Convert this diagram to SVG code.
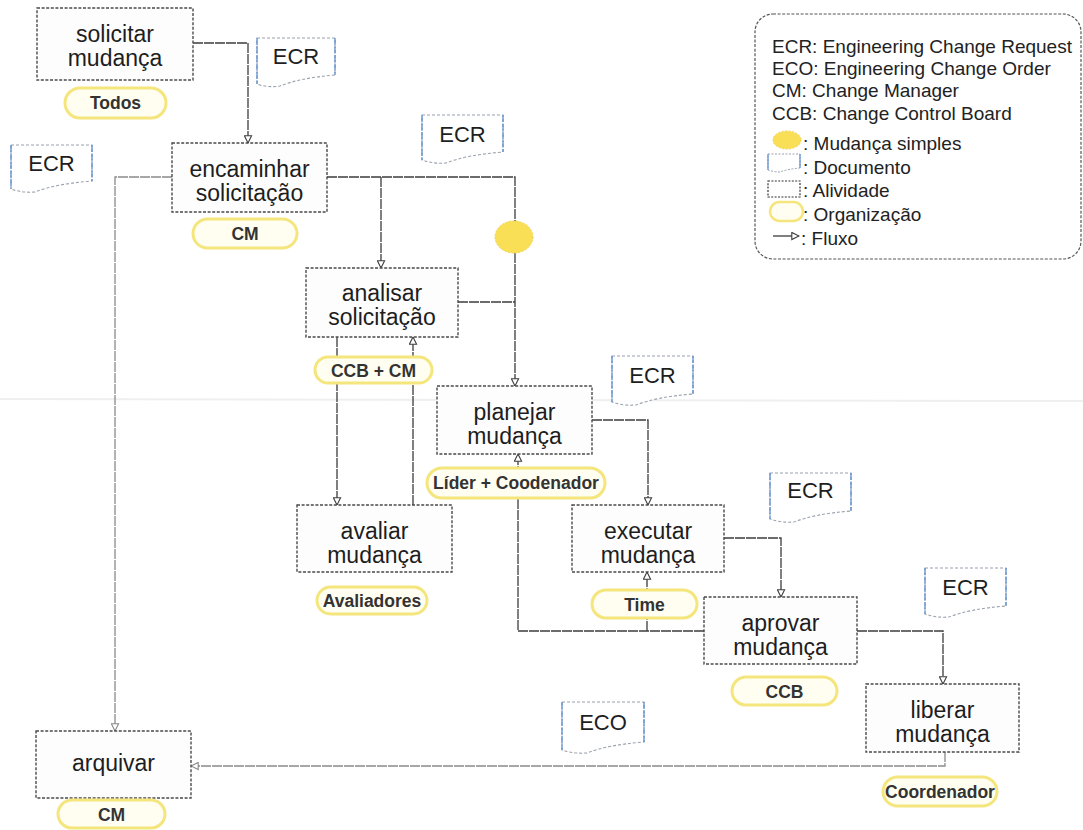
<svg xmlns="http://www.w3.org/2000/svg" width="1083" height="830" viewBox="0 0 1083 830">
  <style>
    .act { fill: #fdfdfd; stroke: #4a4a4a; stroke-width: 1.4; stroke-dasharray: 3 1.6; }
    .atxt { font-family: "Liberation Sans", Arial, sans-serif; font-size: 23px; fill: #1e1e1e; text-anchor: middle; }
    .org { fill: #fffef0; stroke: #f4e57c; stroke-width: 3; }
    .otxt { font-family: "Liberation Sans", Arial, sans-serif; font-size: 17.5px; font-weight: bold; fill: #333; text-anchor: middle; }
    .doc { fill: #ffffff; stroke: #9aa2ad; stroke-width: 1.1; stroke-dasharray: 3 2; }
    .side { stroke: #5b8fd2; stroke-width: 1.3; stroke-dasharray: 7 1.5; fill: none; }
    .dtxt { font-family: "Liberation Sans", Arial, sans-serif; font-size: 22px; fill: #1e1e1e; text-anchor: middle; }
    .flow { fill: none; stroke: #3c3c3c; stroke-width: 1.3; stroke-dasharray: 10 1; }
    .flow-light { fill: none; stroke: #8a8a8a; stroke-width: 1.3; stroke-dasharray: 10 1; }
    .ltxt { font-family: "Liberation Sans", Arial, sans-serif; font-size: 19px; fill: #222; }
    .simple { fill: #f8df55; stroke: #f1d24a; stroke-width: 1; stroke-dasharray: 2 1.5; }
  </style>
  <defs>
    <marker id="arrow" viewBox="0 0 10 10" refX="9" refY="5" markerWidth="9" markerHeight="9" markerUnits="userSpaceOnUse" orient="auto">
      <path d="M1,1 L9,5 L1,9 Z" fill="#ffffff" stroke="#3c3c3c" stroke-width="1.2"/>
    </marker>
    <marker id="arrow-light" viewBox="0 0 10 10" refX="9" refY="5" markerWidth="9" markerHeight="9" markerUnits="userSpaceOnUse" orient="auto">
      <path d="M1,1 L9,5 L1,9 Z" fill="#ffffff" stroke="#888888" stroke-width="1.2"/>
    </marker>
  </defs>

  <rect x="0" y="0" width="1083" height="830" fill="#ffffff"/>
  <!-- faint paper fold -->
  <line x1="0" y1="399" x2="1083" y2="401" stroke="#efefef" stroke-width="2"/>

  <!-- flow lines -->
  <g id="connectors">
    <path class="flow" d="M193,43 H248 V143" marker-end="url(#arrow)"/>
    <path class="flow" d="M327,177 H515 V386" marker-end="url(#arrow)"/>
    <path class="flow" d="M381,177 V268" marker-end="url(#arrow)"/>
    <path class="flow" d="M458,302 H515"/>
    <path class="flow-light" d="M172,177 H115 V731" marker-end="url(#arrow-light)"/>
    <path class="flow" d="M337,337 V505" marker-end="url(#arrow)"/>
    <path class="flow" d="M413,505 V337" marker-end="url(#arrow)"/>
    <path class="flow" d="M592,420 H648 V505" marker-end="url(#arrow)"/>
    <path class="flow" d="M724,538 H781 V597" marker-end="url(#arrow)"/>
    <path class="flow" d="M704,631 H518 V454" marker-end="url(#arrow)"/>
    <path class="flow" d="M647,631 V572" marker-end="url(#arrow)"/>
    <path class="flow" d="M857,631 H943 V684" marker-end="url(#arrow)"/>
    <path class="flow-light" d="M945,752 V766 H191" marker-end="url(#arrow-light)"/>
  </g>

  <!-- simple-change marker on the shortcut path -->
  <g id="mudanca-simples">
    <ellipse class="simple" cx="514" cy="237" rx="19" ry="16"/>
  </g>

  <!-- activities with their owners -->
  <g id="solicitar">
    <rect class="act" x="37" y="8" width="156" height="72"/>
    <text class="atxt" x="115" y="42">solicitar</text>
    <text class="atxt" x="115" y="66">mudança</text>
    <rect class="org" x="65" y="88" width="101" height="30" rx="15"/>
    <text class="otxt" x="115.5" y="109">Todos</text>
  </g>

  <g id="encaminhar">
    <rect class="act" x="172" y="143" width="155" height="69"/>
    <text class="atxt" x="249.5" y="177">encaminhar</text>
    <text class="atxt" x="249.5" y="201">solicitação</text>
    <rect class="org" x="193" y="219" width="104" height="29" rx="14.5"/>
    <text class="otxt" x="245" y="240">CM</text>
  </g>

  <g id="analisar">
    <rect class="act" x="306" y="268" width="152" height="69"/>
    <text class="atxt" x="382" y="301">analisar</text>
    <text class="atxt" x="382" y="325">solicitação</text>
    <rect class="org" x="315" y="357" width="117" height="26" rx="13"/>
    <text class="otxt" x="373.5" y="376.5">CCB + CM</text>
  </g>

  <g id="planejar">
    <rect class="act" x="437" y="386" width="155" height="68"/>
    <text class="atxt" x="514.5" y="420">planejar</text>
    <text class="atxt" x="514.5" y="444">mudança</text>
    <rect class="org" x="427" y="468" width="178" height="30" rx="15"/>
    <text class="otxt" x="516" y="489">Líder + Coodenador</text>
  </g>

  <g id="avaliar">
    <rect class="act" x="297" y="505" width="155" height="67"/>
    <text class="atxt" x="374.5" y="539">avaliar</text>
    <text class="atxt" x="374.5" y="563">mudança</text>
    <rect class="org" x="317" y="587" width="110" height="27" rx="13.5"/>
    <text class="otxt" x="372" y="607">Avaliadores</text>
  </g>

  <g id="executar">
    <rect class="act" x="572" y="505" width="152" height="67"/>
    <text class="atxt" x="648" y="539">executar</text>
    <text class="atxt" x="648" y="563">mudança</text>
    <rect class="org" x="592" y="590" width="105" height="28" rx="14"/>
    <text class="otxt" x="644.5" y="610.5">Time</text>
  </g>

  <g id="aprovar">
    <rect class="act" x="704" y="597" width="153" height="67"/>
    <text class="atxt" x="780.5" y="631">aprovar</text>
    <text class="atxt" x="780.5" y="655">mudança</text>
    <rect class="org" x="732" y="677" width="105" height="28" rx="14"/>
    <text class="otxt" x="784.5" y="697.5">CCB</text>
  </g>

  <g id="liberar">
    <rect class="act" x="866" y="684" width="153" height="68"/>
    <text class="atxt" x="942.5" y="718">liberar</text>
    <text class="atxt" x="942.5" y="742">mudança</text>
    <rect class="org" x="883" y="777" width="114" height="29" rx="14.5"/>
    <text class="otxt" x="940" y="798">Coordenador</text>
  </g>

  <g id="arquivar">
    <rect class="act" x="36" y="731" width="155" height="67"/>
    <text class="atxt" x="113.5" y="771">arquivar</text>
    <rect class="org" x="58" y="800" width="107" height="28" rx="14"/>
    <text class="otxt" x="111.5" y="820.5">CM</text>
  </g>

  <!-- documents -->
  <g id="doc-ecr-1">
    <path class="doc" d="M257,38 H335 V75 Q300,78 280,86 Q268,88 257,84 Z"/>
    <path class="side" d="M257,38 V84 M335,38 V75"/>
    <text class="dtxt" x="296" y="64">ECR</text>
  </g>
  <g id="doc-ecr-2">
    <path class="doc" d="M11,145 H92 V181 Q55,184 35,192 Q22,193 11,189 Z"/>
    <path class="side" d="M11,145 V189 M92,145 V181"/>
    <text class="dtxt" x="51.5" y="171">ECR</text>
  </g>
  <g id="doc-ecr-3">
    <path class="doc" d="M422,115 H503 V152 Q466,155 446,163 Q433,164 422,160 Z"/>
    <path class="side" d="M422,115 V160 M503,115 V152"/>
    <text class="dtxt" x="462.5" y="142">ECR</text>
  </g>
  <g id="doc-ecr-4">
    <path class="doc" d="M612,356 H693 V394 Q656,397 636,405 Q623,406 612,402 Z"/>
    <path class="side" d="M612,356 V402 M693,356 V394"/>
    <text class="dtxt" x="652.5" y="383">ECR</text>
  </g>
  <g id="doc-ecr-5">
    <path class="doc" d="M770,473 H851 V511 Q814,514 794,522 Q781,523 770,519 Z"/>
    <path class="side" d="M770,473 V519 M851,473 V511"/>
    <text class="dtxt" x="810.5" y="498">ECR</text>
  </g>
  <g id="doc-ecr-6">
    <path class="doc" d="M925,568 H1006 V606 Q969,609 949,617 Q936,618 925,614 Z"/>
    <path class="side" d="M925,568 V614 M1006,568 V606"/>
    <text class="dtxt" x="965.5" y="595">ECR</text>
  </g>
  <g id="doc-eco">
    <path class="doc" d="M562,702 H644 V742 Q607,745 587,753 Q574,754 562,750 Z"/>
    <path class="side" d="M562,702 V750 M644,702 V742"/>
    <text class="dtxt" x="603" y="730">ECO</text>
  </g>

  <!-- key -->
  <g id="legenda">
    <rect x="755" y="14" width="326" height="245" rx="18" fill="#ffffff" stroke="#555" stroke-width="1.2" stroke-dasharray="3 1.6"/>
    <text class="ltxt" x="772" y="53">ECR: Engineering Change Request</text>
    <text class="ltxt" x="772" y="75">ECO: Engineering Change Order</text>
    <text class="ltxt" x="772" y="97">CM: Change Manager</text>
    <text class="ltxt" x="772" y="120">CCB: Change Control Board</text>

    <ellipse class="simple" cx="787" cy="140" rx="14" ry="9"/>
    <text class="ltxt" x="803" y="150">: Mudança simples</text>

    <path d="M768,154 H800 V168 Q788,169 780,172 Q774,172 768,170 Z" fill="#fff" stroke="#9aa2ad" stroke-width="1" stroke-dasharray="2 1.5"/>
    <path d="M768,154 V170 M800,154 V168" stroke="#5b8fd2" stroke-width="1.2" fill="none"/>
    <text class="ltxt" x="803" y="174">: Documento</text>

    <rect x="768" y="181" width="32" height="16" fill="#fff" stroke="#333" stroke-width="1.2" stroke-dasharray="2 1.4"/>
    <text class="ltxt" x="803" y="197">: Alividade</text>

    <rect x="770" y="202" width="33" height="19" rx="9.5" fill="#fffef0" stroke="#f4e57c" stroke-width="2.5"/>
    <text class="ltxt" x="803" y="221">: Organização</text>

    <path d="M773,236 H799" fill="none" stroke="#3c3c3c" stroke-width="1.3" marker-end="url(#arrow)"/>
    <text class="ltxt" x="801" y="245">: Fluxo</text>
  </g>
</svg>
